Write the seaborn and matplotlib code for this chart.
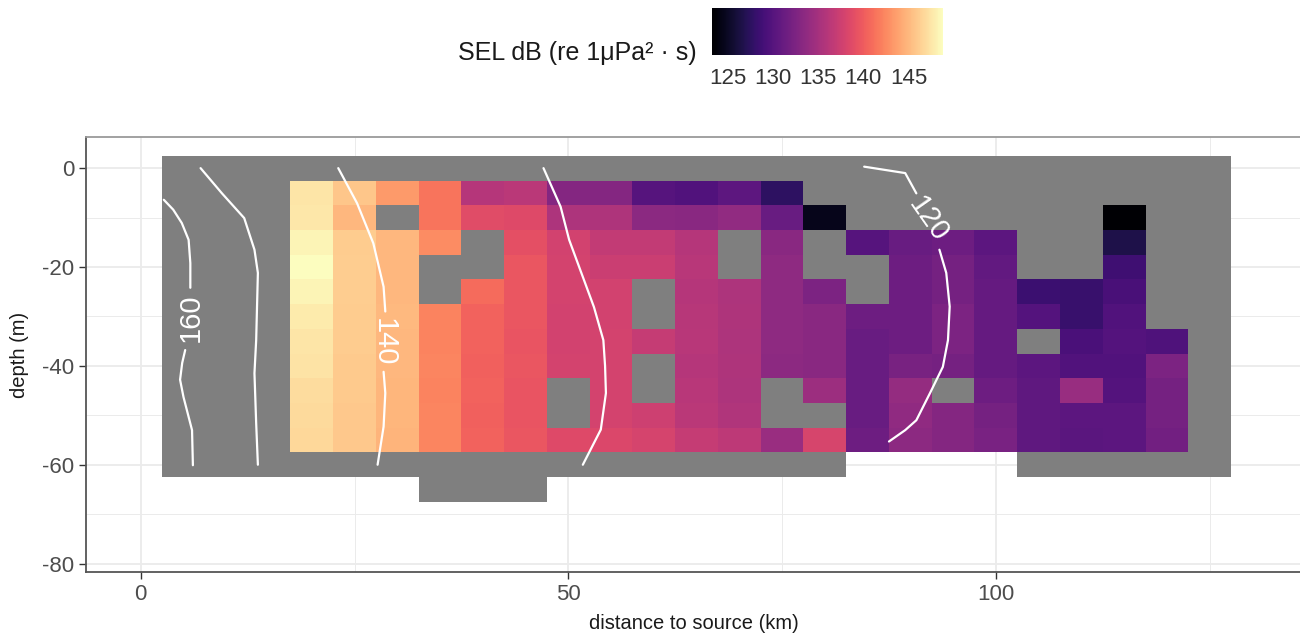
import numpy as np
import pandas as pd
import matplotlib
matplotlib.use("Agg")
import matplotlib.pyplot as plt
from matplotlib.colors import ListedColormap
import seaborn as sns

# --- model domain (grey tiles): every column runs from the surface down to model_bottom ---
model_distance = [5, 10, 15, 20, 25, 30, 35, 40, 45, 50, 55, 60, 65,
                  70, 75, 80, 85, 90, 95, 100, 105, 110, 115, 120, 125]
model_bottom = [-60, -60, -60, -60, -60, -60, -65, -65, -65, -60, -60, -60, -60,
                -60, -60, -60, -55, -55, -55, -55, -60, -60, -60, -60, -60]
model_depth = [0, -5, -10, -15, -20, -25, -30, -35, -40, -45, -50, -55, -60, -65]

# --- measured SEL tiles (dB re 1uPa^2 s), one list per distance, depth -5 .. -55 ---
sel_distance = [20, 25, 30, 35, 40, 45, 50, 55, 60, 65, 70,
                75, 80, 85, 90, 95, 100, 105, 110, 115, 120]
sel_depth = [-5, -10, -15, -20, -25, -30, -35, -40, -45, -50, -55]
N = np.nan
sel_values = [
    [147.5, 147.6, 148.3, 148.8, 148.3, 147.8, 147.5, 147.4, 147.0, 146.9, 146.8],  # 20
    [145.8, 145.0, 146.1, 146.2, 146.2, 146.1, 146.1, 146.0, 146.0, 145.9, 145.9],  # 25
    [143.4, N, 145.0, 145.0, 145.0, 145.1, 145.0, 145.0, 144.9, 144.9, 144.8],      # 30
    [141.4, 141.4, 142.7, N, N, 142.2, 142.2, 142.3, 142.2, 142.3, 142.3],          # 35
    [136.0, 138.8, N, N, 140.9, 140.4, 140.4, 140.3, 140.4, 140.3, 140.4],          # 40
    [136.3, 138.6, 139.1, 139.6, 139.6, 139.6, 139.5, 139.6, 139.5, 139.5, 139.6],  # 45
    [133.0, 135.5, 137.8, 137.9, 137.9, 137.8, 137.8, 137.9, N, N, 138.6],          # 50
    [133.0, 135.6, 136.8, 137.3, 137.8, 137.8, 137.9, 137.9, 137.9, 137.9, 138.4],  # 55
    [130.0, 133.4, 136.8, 137.3, N, N, 137.0, N, N, 137.5, 138.0],                  # 60
    [129.7, 133.3, 136.0, 136.2, 136.0, 136.1, 136.2, 136.0, 136.2, 136.3, 137.0],  # 65
    [130.5, 133.8, N, N, 135.5, 135.6, 135.5, 135.6, 135.5, 135.7, 136.5],          # 70
    [127.6, 131.2, 133.3, 133.6, 133.6, 133.6, 133.6, 133.5, N, N, 134.3],          # 75
    [N, 124.5, N, N, 132.5, 133.3, 133.3, 133.3, 134.5, N, 138.1],                  # 80
    [N, N, 130.0, N, N, 131.5, 131.2, 131.2, 131.2, 131.2, 131.5],                  # 85
    [N, N, 131.2, 131.5, 131.5, 131.5, 131.5, 132.2, 134.0, 133.7, 133.5],          # 90
    [N, N, 131.5, 132.0, 132.0, 132.5, 132.5, 132.0, N, 133.0, 133.0],              # 95
    [N, N, 130.4, 130.8, 131.0, 131.0, 131.0, 131.0, 131.5, 132.0, 132.3],          # 100
    [N, N, N, N, 128.4, 129.9, N, 130.4, 130.6, 130.6, 130.6],                      # 105
    [N, N, N, N, 128.2, 128.2, 129.3, 129.7, 134.2, 130.4, 130.3],                  # 110
    [N, 123.3, 126.6, 128.6, 129.2, 129.7, 129.9, 129.7, 129.9, 130.4, 130.4],      # 115
    [N, N, N, N, N, N, 129.6, 132.5, 132.0, 132.0, 131.8],                          # 120
]

# --- modelled SEL isolines (None = gap for the label) ---
iso160_x = [2.7, 3.8, 4.8, 5.6, 5.8, 5.8, None, 5.2, 4.85, 4.6, 5.0, 6.0, 6.1]
iso160_y = [-6.4, -8.4, -11.1, -14.5, -19.2, -24.2, None, -36.8, -39.4, -42.8, -46.3, -53.0, -60.1]
iso150_x = [7.0, 9.5, 12.1, 13.3, 13.7, 13.5, 13.3, 13.5, 13.7]
iso150_y = [0.0, -5.1, -10.1, -16.5, -21.2, -34.8, -41.5, -51.6, -60.0]
iso140_x = [23.1, 25.3, 27.2, 28.4, 28.6, None, 28.4, 28.6, 28.4, 27.7]
iso140_y = [0.0, -7.1, -15.2, -24.0, -29.0, None, -41.2, -45.5, -52.3, -60.0]
iso130_x = [47.1, 49.1, 50.1, 53.0, 54.1, 54.3, 54.4, 53.8, 51.7]
iso130_y = [0.0, -7.8, -14.5, -28.1, -34.8, -40.0, -45.5, -52.9, -60.0]
iso120_x = [84.6, 89.4, 90.7, None, 93.4, 94.2, 94.6, 94.4, 93.8, 92.3, 90.7, 89.4, 87.5]
iso120_y = [0.3, -1.0, -5.1, None, -16.5, -21.2, -28.0, -34.8, -40.2, -45.5, -51.0, -53.0, -55.3]

label_levels = [160, 140, 120]
label_x = [5.8, 28.4, 92.1]
label_y = [-30.2, -35.2, -10.4]
label_angle = [90, -90, -55]

cbar_ticks = [125, 130, 135, 140, 145]


def edges(c):
    c = np.asarray(c, dtype=float)
    h = np.diff(c).mean() / 2
    return np.append(c - h, c[-1] + h)


sns.set_theme(style="whitegrid")
plt.rcParams["font.family"] = ["Liberation Sans", "DejaVu Sans"]
plt.rcParams["axes.unicode_minus"] = False

W, H = 1300, 638
fig = plt.figure(figsize=(W / 100, H / 100), dpi=100)
ax = fig.add_axes([86 / W, 66 / H, 1216 / W, 435 / H])

# grey model domain
D, Z = np.meshgrid(model_distance, model_depth)
bottom = np.tile(model_bottom, (len(model_depth), 1))
grey = np.where(Z >= bottom, 1.0, np.nan)
ax.pcolormesh(edges(model_distance), edges(model_depth), np.ma.masked_invalid(grey),
              cmap=ListedColormap(["#7f7f7f"]), vmin=0, vmax=2, antialiased=False)

# SEL tiles
sel = np.array(sel_values, dtype=float).T
magma = sns.color_palette("magma", as_cmap=True)
mesh = ax.pcolormesh(edges(sel_distance), edges(sel_depth), np.ma.masked_invalid(sel),
                     cmap=magma, vmin=np.nanmin(sel), vmax=np.nanmax(sel), antialiased=False)

# isolines
rows = []
seg = 0
for xs, ys in [(iso160_x, iso160_y), (iso150_x, iso150_y), (iso140_x, iso140_y),
               (iso130_x, iso130_y), (iso120_x, iso120_y)]:
    seg += 1
    for x, y in zip(xs, ys):
        if x is None:
            seg += 1
            continue
        rows.append({"x": x, "y": y, "seg": seg})
iso = pd.DataFrame(rows)
sns.lineplot(data=iso, x="x", y="y", units="seg", estimator=None, sort=False,
             color="white", linewidth=1.6, ax=ax)

for lev, x, y, a in zip(label_levels, label_x, label_y, label_angle):
    ax.text(x, y, str(lev), rotation=a, rotation_mode="anchor", ha="center", va="center",
            color="white", fontsize=21)

ax.set_xlim(-6.4, 135.8)
ax.set_ylim(-81.7, 6.3)
ax.set_xticks([0, 50, 100])
ax.set_xticks([25, 75, 125], minor=True)
ax.set_yticks([0, -20, -40, -60, -80])
ax.set_yticks([-10, -30, -50, -70], minor=True)
ax.grid(which="major", color="#ebebeb", linewidth=1.3)
ax.grid(which="minor", color="#ebebeb", linewidth=0.7)
ax.set_axisbelow(True)
ax.tick_params(which="major", length=5, width=1, color="#333333", direction="out",
               labelsize=16, labelcolor="#4d4d4d", pad=3.5, left=True, bottom=True)
ax.tick_params(which="minor", length=0)
for side in ["left", "bottom"]:
    ax.spines[side].set_color("#555555")
    ax.spines[side].set_linewidth(1.3)
ax.spines["top"].set_color("#9a9a9a")
ax.spines["top"].set_linewidth(1.3)

ax.set_xlabel("distance to source (km)", fontsize=14.5, color="#1a1a1a")
ax.set_ylabel("depth (m)", fontsize=14.5, color="#1a1a1a")
ax.xaxis.set_label_coords((694 - 86) / 1216, (572 - 614) / 435)
ax.yaxis.set_label_coords((29 - 86) / 1216, 0.5)

# colour bar legend on top
cax = fig.add_axes([712 / W, 1 - 55 / H, 231 / W, 47 / H])
cb = fig.colorbar(mesh, cax=cax, orientation="horizontal", ticks=cbar_ticks)
cb.outline.set_visible(False)
cax.tick_params(axis="x", direction="in", length=6, width=1, color="white",
                top=True, bottom=True, labelbottom=True, labeltop=False,
                labelsize=16, labelcolor="#333333", pad=9)
fig.text(697 / W, 1 - 60 / H, "SEL dB (re 1μPa² · s)", ha="right", va="baseline",
         fontsize=18, color="#1a1a1a")

fig.savefig("out.png", dpi=100)
